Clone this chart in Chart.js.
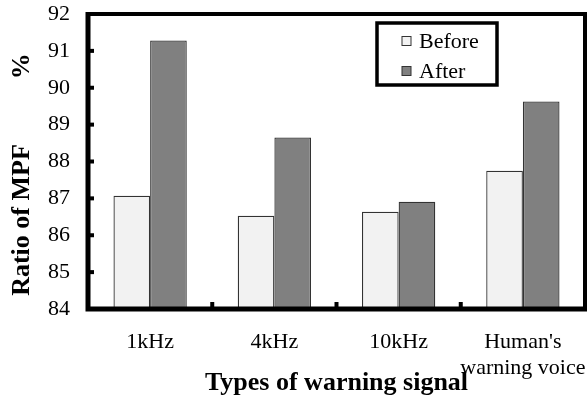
<!DOCTYPE html>
<html>
<head>
<meta charset="utf-8">
<script src="https://cdn.jsdelivr.net/npm/chart.js@4.4.1/dist/chart.umd.min.js"></script>
<style>
  html, body { margin: 0; padding: 0; background: #fff; }
  #wrap { width: 588px; height: 401px; position: relative; }
</style>
</head>
<body>
<div id="wrap"><canvas id="c" width="588" height="401"></canvas></div>
<script>
const categories = ["1kHz", "4kHz", "10kHz", ["Human's", "warning voice"]];
const beforeValues = [87.07, 86.53, 86.64, 87.75];
const afterValues = [91.28, 88.65, 86.91, 89.63];
const seriesNames = ["Before", "After"];
const yTicks = [84, 85, 86, 87, 88, 89, 90, 91, 92];
const xTitle = "Types of warning signal";
const yTitle = "Ratio of MPF          %    ";

const SERIF = "'Liberation Serif', 'Times New Roman', serif";
const colors = ["#f2f2f2", "#808080"];

const framePlugin = {
  id: 'frame',
  afterDraw(chart) {
    const ctx = chart.ctx;
    const a = chart.chartArea;
    const xs = chart.scales.x, ys = chart.scales.y;
    ctx.save();
    ctx.strokeStyle = '#000';
    ctx.lineWidth = 4;
    ctx.beginPath();
    ctx.moveTo(a.left, a.top); ctx.lineTo(a.right, a.top); ctx.lineTo(a.right, a.bottom);
    ctx.stroke();
    ctx.lineWidth = 5;
    ctx.beginPath();
    ctx.moveTo(a.left, a.top - 2); ctx.lineTo(a.left, a.bottom); ctx.lineTo(a.right + 2, a.bottom);
    ctx.stroke();
    ctx.fillStyle = '#000';
    yTicks.forEach(v => {
      if (v === ys.min || v === ys.max) return;
      const py = ys.getPixelForValue(v);
      ctx.fillRect(a.left, py - 2, 6, 4);
    });
    for (let i = 0; i < categories.length - 1; i++) {
      const px = (xs.getPixelForValue(i) + xs.getPixelForValue(i + 1)) / 2;
      ctx.fillRect(px - 2, a.bottom - 7, 4, 7);
    }
    const lx = 377, ly = 23, lw = 120, lh = 62;
    ctx.lineWidth = 3.5;
    ctx.strokeRect(lx, ly, lw, lh);
    ctx.font = "22px " + SERIF;
    ctx.textBaseline = 'middle';
    ctx.textAlign = 'left';
    chart.data.datasets.forEach((ds, i) => {
      const cy = ly + 18 + i * 30;
      ctx.fillStyle = ds.backgroundColor;
      ctx.fillRect(402, cy - 4.5, 9, 9);
      ctx.lineWidth = 1;
      ctx.strokeStyle = '#333';
      ctx.strokeRect(402, cy - 4.5, 9, 9);
      ctx.fillStyle = '#000';
      ctx.fillText(ds.label, 419, cy + 1);
    });
    ctx.restore();
  }
};

new Chart(document.getElementById('c'), {
  type: 'bar',
  data: {
    labels: categories,
    datasets: [
      { label: seriesNames[0], data: beforeValues, backgroundColor: colors[0], borderColor: '#333', borderWidth: 1.3 },
      { label: seriesNames[1], data: afterValues, backgroundColor: colors[1], borderColor: '#333', borderWidth: 1.3 }
    ]
  },
  options: {
    responsive: false,
    animation: false,
    devicePixelRatio: 1,
    layout: { padding: { top: 14, right: 3, left: 0, bottom: 0 } },
    datasets: { bar: { categoryPercentage: 0.59, barPercentage: 1.0 } },
    plugins: { legend: { display: false }, tooltip: { enabled: false } },
    scales: {
      x: {
        grid: { display: false, drawTicks: false },
        border: { display: false },
        ticks: { color: '#000', font: { family: SERIF, size: 22 }, padding: 20, maxRotation: 0, autoSkip: false },
        title: { display: true, text: xTitle, color: '#000', font: { family: SERIF, size: 26, weight: 'bold' }, padding: { top: 0, bottom: 2 } },
        afterFit(s) { s.height = 92; s.paddingLeft = 0; s.paddingRight = 0; }
      },
      y: {
        min: 84, max: 92,
        grid: { display: false, drawTicks: false },
        border: { display: false },
        afterBuildTicks(s) { s.ticks = yTicks.map(v => ({ value: v })); },
        ticks: { color: '#000', font: { family: SERIF, size: 22 }, padding: 18 },
        title: { display: true, text: yTitle, color: '#000', font: { family: SERIF, size: 26, weight: 'bold' }, padding: { top: 7, bottom: 0 } },
        afterFit(s) { s.width = 88; s.paddingTop = 0; s.paddingBottom = 0; }
      }
    }
  },
  plugins: [framePlugin]
});
</script>
</body>
</html>
